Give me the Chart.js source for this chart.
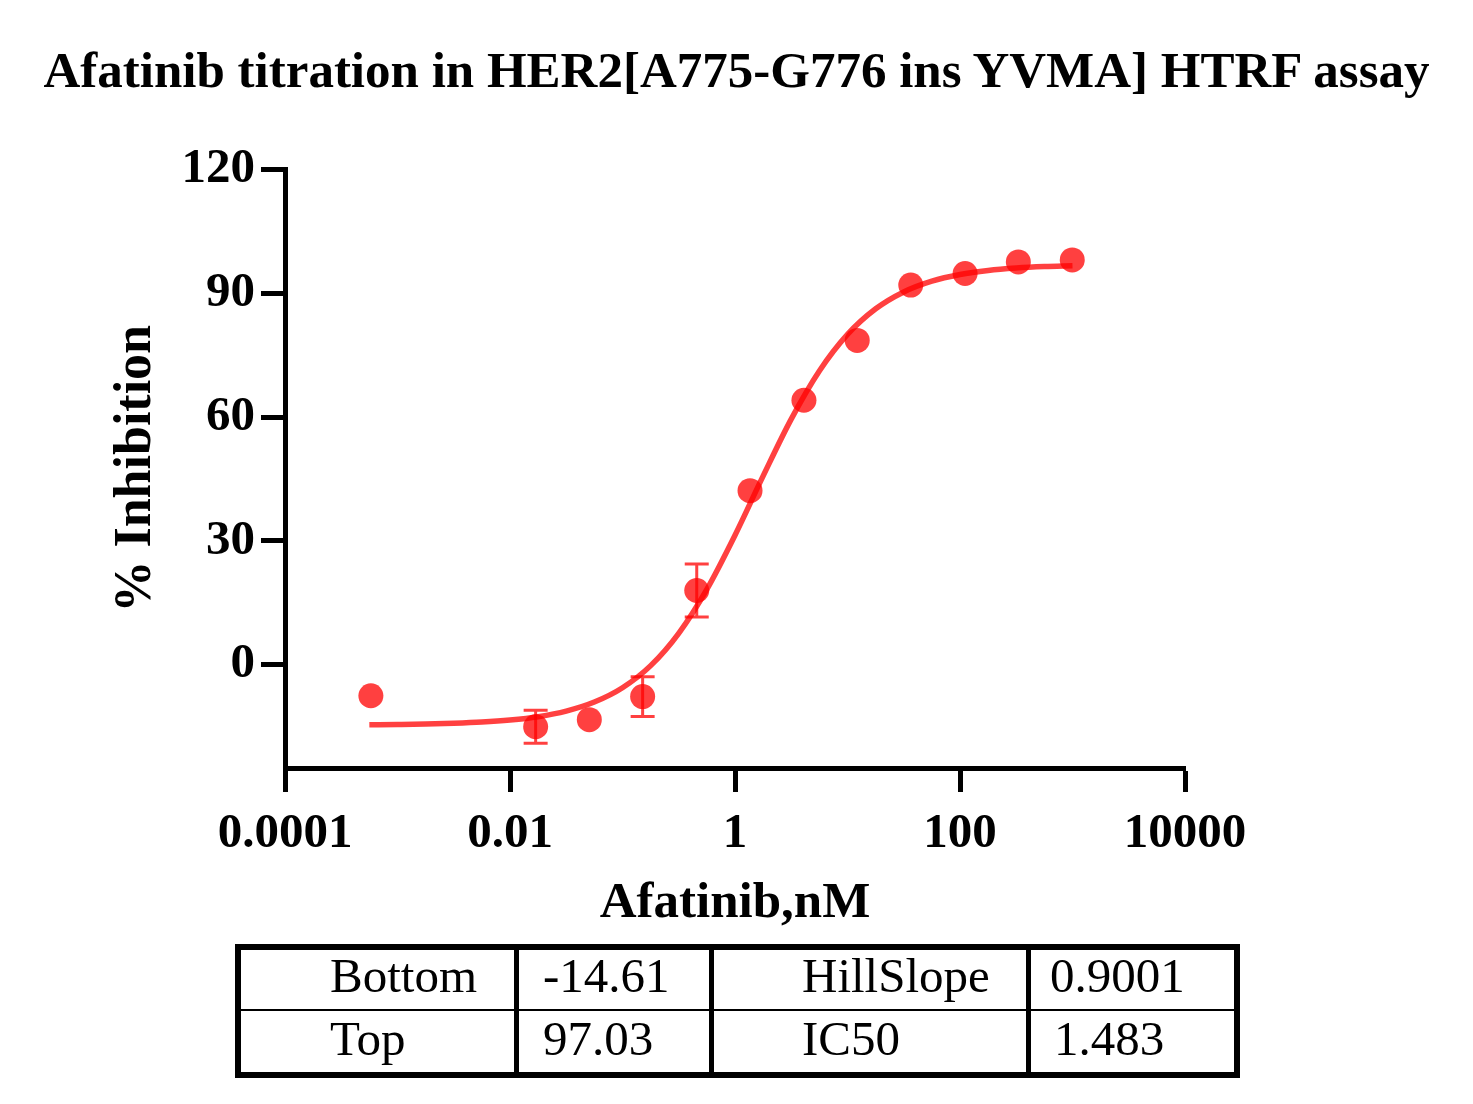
<!DOCTYPE html>
<html>
<head>
<meta charset="utf-8">
<script src="https://cdn.jsdelivr.net/npm/chart.js@4"></script>
<style>
  body { margin: 0; background: #fff; }
  #wrap { position: relative; width: 1473px; height: 1104px; font-family: "Liberation Serif", "Times New Roman", serif; }
  #chart { position: absolute; left: 0; top: 0; }
  #title { position: absolute; left: 0; top: 45px; width: 1473px; text-align: center; font-size: 51px; line-height: 51px; font-weight: bold; }
  .cell { position: absolute; font-size: 49px; line-height: 49px; }
  .rule { position: absolute; background: #000; }
</style>
</head>
<body>
<div id="wrap">
  <canvas id="chart" width="1473" height="1104"></canvas>
  <div id="title">Afatinib titration in HER2[A775-G776 ins YVMA] HTRF assay</div>
  <div id="table"></div>
</div>
<script>
// measured points (nM, % inhibition, error)
const doseNM = [0.00058, 0.0169, 0.0507, 0.151, 0.457, 1.36, 4.10, 12.2, 36.5, 111, 330, 995];
const inhibition = [-7.5, -15.0, -13.3, -7.7, 18.0, 42.2, 64.1, 78.6, 92.0, 94.8, 97.6, 98.1];
const errBar = [0, 4.0, 0, 4.8, 6.4, 0, 0, 0, 0, 0, 0, 0];

// fitted curve
const curveX = [0.000562, 0.001, 0.00178, 0.00316, 0.00562, 0.01, 0.0178, 0.0316, 0.0562, 0.1,
  0.178, 0.316, 0.562, 1, 1.78, 3.16, 5.62, 10, 17.8, 31.6, 56.2, 100, 178, 316, 562, 1000];
const curveY = [-14.52, -14.45, -14.35, -14.17, -13.88, -13.38, -12.57, -11.22, -9.03, -5.56,
  -0.20, 7.64, 18.29, 31.41, 45.77, 59.52, 71.18, 80.04, 86.25, 90.34, 92.95, 94.56, 95.55, 96.14, 96.50, 96.71];

const xTicks = [0.0001, 0.01, 1, 100, 10000];
const xTickLabels = ["0.0001", "0.01", "1", "100", "10000"];
const yTicks = [0, 30, 60, 90, 120];

const fitNames = ["Bottom", "Top", "HillSlope", "IC50"];
const fitValues = ["-14.61", "97.03", "0.9001", "1.483"];

const RED = "rgba(255, 0, 0, 0.75)";
const FONT = "'Liberation Serif', 'Times New Roman', serif";

const errorBars = {
  id: "errorBars",
  afterDatasetsDraw(chart) {
    const { ctx, scales: { x, y } } = chart;
    ctx.save();
    ctx.strokeStyle = RED;
    ctx.lineWidth = 3;
    doseNM.forEach((d, i) => {
      if (!errBar[i]) return;
      const px = x.getPixelForValue(d);
      const top = y.getPixelForValue(inhibition[i] + errBar[i]);
      const bot = y.getPixelForValue(inhibition[i] - errBar[i]);
      ctx.beginPath();
      ctx.moveTo(px, top); ctx.lineTo(px, bot);
      ctx.moveTo(px - 12, top); ctx.lineTo(px + 12, top);
      ctx.moveTo(px - 12, bot); ctx.lineTo(px + 12, bot);
      ctx.stroke();
    });
    ctx.restore();
  }
};

const axisGrid = { drawOnChartArea: false, drawTicks: true, tickLength: 24, tickWidth: 5, tickColor: "#000" };
const axisBorder = { color: "#000", width: 5 };

new Chart(document.getElementById("chart"), {
  type: "scatter",
  data: {
    datasets: [
      {
        label: "data",
        data: doseNM.map((d, i) => ({ x: d, y: inhibition[i] })),
        backgroundColor: RED,
        borderWidth: 0,
        pointRadius: 12.5,
        showLine: false
      },
      {
        label: "fit",
        data: curveX.map((d, i) => ({ x: d, y: curveY[i] })),
        borderColor: RED,
        borderWidth: 5.5,
        pointRadius: 0,
        showLine: true,
        cubicInterpolationMode: "monotone"
      }
    ]
  },
  options: {
    responsive: false,
    animation: false,
    layout: { padding: { left: 0, top: 169.5, right: 288, bottom: 0 } },
    plugins: { legend: { display: false }, tooltip: { enabled: false } },
    scales: {
      x: {
        type: "logarithmic",
        min: 0.0001,
        max: 10000,
        afterBuildTicks: s => { s.ticks = xTicks.map(v => ({ value: v })); },
        afterFit: s => { s.height = 1104 - 768; },
        ticks: {
          callback: (v, i) => xTickLabels[i],
          color: "#000",
          padding: 13,
          maxRotation: 0,
          font: { family: FONT, size: 49, weight: "bold" }
        },
        grid: axisGrid,
        border: axisBorder,
        title: {
          display: true,
          text: "Afatinib,nM",
          color: "#000",
          padding: { top: 0, bottom: 170 },
          font: { family: FONT, size: 51, weight: "bold" }
        }
      },
      y: {
        min: -25,
        max: 120,
        afterBuildTicks: s => { s.ticks = yTicks.map(v => ({ value: v })); },
        afterFit: s => { s.width = 285; },
        ticks: {
          color: "#000",
          padding: 6,
          font: { family: FONT, size: 49, weight: "bold" }
        },
        grid: axisGrid,
        border: axisBorder,
        title: {
          display: true,
          text: "% Inhibition",
          color: "#000",
          padding: { top: 105, bottom: 0 },
          font: { family: FONT, size: 52, weight: "bold" }
        }
      }
    }
  },
  plugins: [errorBars]
});

// results table below the chart
const table = document.getElementById("table");
const rules = [
  [235, 944, 1005, 6], [235, 1072, 1005, 6], [235, 944, 6, 134], [1234, 944, 6, 134],
  [514, 944, 5, 134], [709, 944, 5, 134], [1026, 944, 5, 134], [235, 1009, 1005, 1.5]
];
rules.forEach(([l, t, w, h]) => {
  const r = document.createElement("div");
  r.className = "rule";
  Object.assign(r.style, { left: l + "px", top: t + "px", width: w + "px", height: h + "px" });
  table.appendChild(r);
});
const nameLeft = [330, 330, 802, 802];
const valueLeft = [543, 543, 1050, 1054];
const rowTop = [951, 1014, 951, 1014];
fitNames.forEach((n, i) => {
  [[n, nameLeft[i]], [fitValues[i], valueLeft[i]]].forEach(([txt, left]) => {
    const c = document.createElement("div");
    c.className = "cell";
    c.textContent = txt;
    c.style.left = left + "px";
    c.style.top = rowTop[i] + "px";
    table.appendChild(c);
  });
});
</script>
</body>
</html>
